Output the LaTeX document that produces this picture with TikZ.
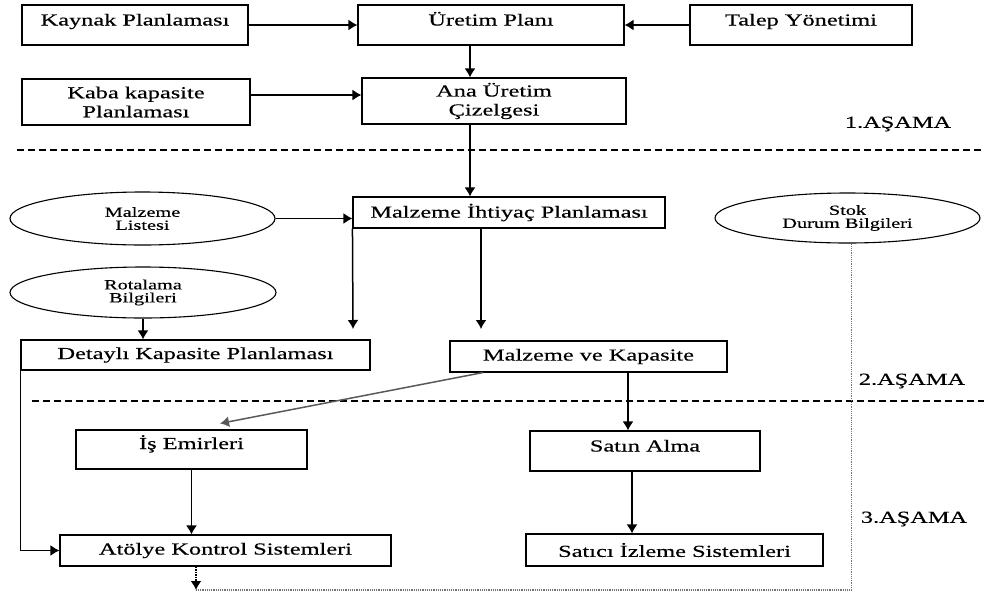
\documentclass[tikz,border=0pt]{standalone}
\usepackage{fontspec}
\setmainfont{Liberation Serif}[FakeStretch=1.45,FakeBold=0.4]
\usepackage{tikz}
\usetikzlibrary{shapes}
\usetikzlibrary{arrows.meta}
\tikzset{>={Latex[length=9pt,width=11pt]}}
\tikzset{kutu/.style={draw, line width=1.1pt, inner sep=0pt, align=center, font=\fontsize{16.8}{19}\selectfont}}
\tikzset{yukari/.style={text height=12pt, text depth=#1}}
\tikzset{elips/.style={draw, ellipse, line width=1.1pt, inner sep=0pt, align=center, font=\fontsize{14}{13}\selectfont}}
\tikzset{ok/.style={->, line width=1.5pt}}

\begin{document}
\begin{tikzpicture}[x=1pt, y=-1pt]
      \useasboundingbox (0,0) rectangle (984,592);
      % 1. asama
      \node (kaynak) at (135,25) [kutu, yukari=11pt, minimum width=226, minimum height=40] {Kaynak Planlaması};
      \node (uretim) at (491,25) [kutu, yukari=11pt, minimum width=266, minimum height=40] {Üretim Planı};
      \node (talep) at (801,25) [kutu, yukari=11pt, minimum width=222, minimum height=40] {Talep Yönetimi};
      \node (kaba) at (136,102) [kutu, minimum width=228, minimum height=46] {Kaba kapasite\\Planlaması};
      \node (ana) at (494,101) [kutu, minimum width=264, minimum height=46] {Ana Üretim\\Çizelgesi};
      \node (asama1) at (898,124) [font=\fontsize{16.8}{19}\selectfont] {1.AŞAMA};
	  \draw[ok] (kaynak.east) -- (uretim.west);
	  \draw[ok] (talep.west) -- (uretim.east);
	  \draw[ok] ([xshift=-21pt]uretim.south) -- ([xshift=-24pt]ana.north);
	  \draw[ok] ([yshift=7pt]kaba.east) -- ([yshift=6pt]ana.west);
      \draw[line width=1.2pt, dash pattern=on 7pt off 4pt] (17,150) -- (984,150);

      % 2. asama
      \node (mip) at (509,212.5) [kutu, minimum width=312, minimum height=31] {Malzeme İhtiyaç Planlaması};
      \node (liste) at (142.5,218.5) [elips, minimum width=265, minimum height=53] {Malzeme\\Listesi};
      \node (stok) at (847.5,218) [elips, minimum width=265, minimum height=50] {Stok\\Durum Bilgileri};
      \node (rota) at (143,292.5) [elips, minimum width=266, minimum height=51] {Rotalama\\Bilgileri};
      \node (detay) at (195.5,355) [kutu, minimum width=349, minimum height=30] {Detaylı Kapasite Planlaması};
      \node (mvk) at (588.5,356.5) [kutu, minimum width=277, minimum height=31] {Malzeme ve Kapasite};
      \node (asama2) at (912,381) [font=\fontsize{16.8}{19}\selectfont] {2.AŞAMA};
      \coordinate (dk) at (353,329);
      \coordinate (mk) at (481,329);
	  \draw[ok] ([xshift=-24pt]ana.south) -- ([xshift=-39pt]mip.north);
	  \draw[ok] (liste.east) -- (liste.east -| mip.west);
	  \draw[ok] (mip.south west) -- (dk);
	  \draw[ok] (mk |- mip.south) -- (mk);
	  \draw[ok] (rota.south) -- (rota.south |- detay.north);
      \draw[line width=1.2pt, dash pattern=on 7pt off 4pt] (32,401) -- (984,401);

      % 3. asama
      \node (is) at (191.5,449.5) [kutu, yukari=13pt, minimum width=231, minimum height=39] {İş Emirleri};
      \node (satin) at (645,451) [kutu, yukari=11pt, minimum width=230, minimum height=40] {Satın Alma};
      \node (atolye) at (225.5,550.5) [kutu, minimum width=331, minimum height=31] {Atölye Kontrol Sistemleri};
      \node (satici) at (674.5,550) [kutu, minimum width=297, minimum height=32] {Satıcı İzleme Sistemleri};
      \node (asama3) at (914,519) [font=\fontsize{16.8}{19}\selectfont] {3.AŞAMA};
      \coordinate (alt) at (196,590);
	  \draw[ok, draw=black!65] ([xshift=-105.5pt]mvk.south) -- ([xshift=28.5pt,yshift=6pt]is.north);
	  \draw[ok] ([xshift=39.5pt]mvk.south) -- ([xshift=-17pt]satin.north);
	  \draw[ok] (is.south) -- (is.south |- atolye.north);
	  \draw[ok] ([xshift=-13pt]satin.south) -- ([xshift=-42.5pt]satici.north);
	  \draw[ok] (detay.south west) |- (atolye.west);
	  \draw[line width=1.2pt, densely dotted, black!55] ([xshift=4pt]stok.south) |- (alt);
	  \draw[ok, densely dotted] ([xshift=-29.5pt]atolye.south) -- (alt);
\end{tikzpicture}
\end{document}
